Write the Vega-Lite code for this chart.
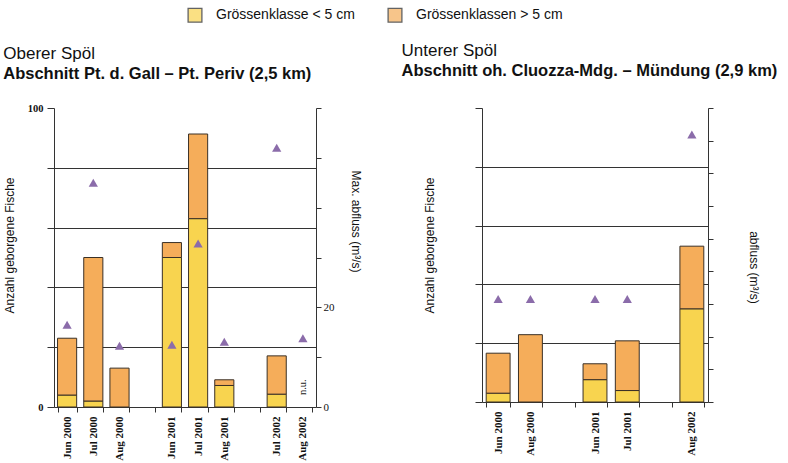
{
  "$schema": "https://vega.github.io/schema/vega-lite/v6.json",
  "background": "white",
  "padding": {"left": 3, "top": 7, "right": 3, "bottom": 0},
  "config": {
    "font": "Liberation Sans",
    "view": {"stroke": null},
    "axis": {"domainColor": "#333333", "tickColor": "#333333", "labelColor": "#111111", "titleColor": "#111111", "titleFontWeight": "normal", "titleFontSize": 12},
    "legend": {"labelFontSize": 14, "labelFont": "Liberation Sans"}
  },
  "datasets": {
    "bars": [
      {"panel": "L", "month": "Jun 2000", "class": "Grössenklasse < 5 cm", "count": 4},
      {"panel": "L", "month": "Jun 2000", "class": "Grössenklassen > 5 cm", "count": 19},
      {"panel": "L", "month": "Jul 2000", "class": "Grössenklasse < 5 cm", "count": 2},
      {"panel": "L", "month": "Jul 2000", "class": "Grössenklassen > 5 cm", "count": 48},
      {"panel": "L", "month": "Aug 2000", "class": "Grössenklassen > 5 cm", "count": 13},
      {"panel": "L", "month": "Jun 2001", "class": "Grössenklasse < 5 cm", "count": 50},
      {"panel": "L", "month": "Jun 2001", "class": "Grössenklassen > 5 cm", "count": 5},
      {"panel": "L", "month": "Jul 2001", "class": "Grössenklasse < 5 cm", "count": 63},
      {"panel": "L", "month": "Jul 2001", "class": "Grössenklassen > 5 cm", "count": 28.3},
      {"panel": "L", "month": "Aug 2001", "class": "Grössenklasse < 5 cm", "count": 7.2},
      {"panel": "L", "month": "Aug 2001", "class": "Grössenklassen > 5 cm", "count": 1.9},
      {"panel": "L", "month": "Jul 2002", "class": "Grössenklasse < 5 cm", "count": 4.3},
      {"panel": "L", "month": "Jul 2002", "class": "Grössenklassen > 5 cm", "count": 12.8},
      {"panel": "R", "month": "Jun 2000", "class": "Grössenklasse < 5 cm", "count": 3},
      {"panel": "R", "month": "Jun 2000", "class": "Grössenklassen > 5 cm", "count": 13.6},
      {"panel": "R", "month": "Aug 2000", "class": "Grössenklassen > 5 cm", "count": 22.9},
      {"panel": "R", "month": "Jun 2001", "class": "Grössenklasse < 5 cm", "count": 7.6},
      {"panel": "R", "month": "Jun 2001", "class": "Grössenklassen > 5 cm", "count": 5.4},
      {"panel": "R", "month": "Jul 2001", "class": "Grössenklasse < 5 cm", "count": 3.9},
      {"panel": "R", "month": "Jul 2001", "class": "Grössenklassen > 5 cm", "count": 16.9},
      {"panel": "R", "month": "Aug 2002", "class": "Grössenklasse < 5 cm", "count": 31.7},
      {"panel": "R", "month": "Aug 2002", "class": "Grössenklassen > 5 cm", "count": 21.3}
    ],
    "flow": [
      {"panel": "L", "month": "Jun 2000", "flow": 16.5},
      {"panel": "L", "month": "Jul 2000", "flow": 45},
      {"panel": "L", "month": "Aug 2000", "flow": 12.3},
      {"panel": "L", "month": "Jun 2001", "flow": 12.5},
      {"panel": "L", "month": "Jul 2001", "flow": 32.8},
      {"panel": "L", "month": "Aug 2001", "flow": 13.1},
      {"panel": "L", "month": "Jul 2002", "flow": 52},
      {"panel": "L", "month": "Aug 2002", "flow": 13.8},
      {"panel": "R", "month": "Jun 2000", "flow": 31.5},
      {"panel": "R", "month": "Aug 2000", "flow": 31.5},
      {"panel": "R", "month": "Jun 2001", "flow": 31.5},
      {"panel": "R", "month": "Jul 2001", "flow": 31.5},
      {"panel": "R", "month": "Aug 2002", "flow": 81.9}
    ],
    "notes": [
      {"panel": "L", "month": "Aug 2002", "count": 4, "label": "n.u."}
    ]
  },
  "hconcat": [
    {
      "width": 262,
      "height": 299,
      "title": {"text": "Oberer Spöl", "subtitle": "Abschnitt Pt. d. Gall – Pt. Periv (2,5 km)", "anchor": "start", "frame": "bounds", "fontSize": 17, "fontWeight": "normal", "color": "#111111", "subtitleFontSize": 16.5, "subtitleFontWeight": "bold", "subtitleColor": "#111111", "subtitlePadding": 3, "offset": 20},
      "layer": [
        {
          "layer": [
            {
              "data": {"name": "bars"},
              "transform": [{"filter": "datum.panel === 'L' && datum.month === 'Jul 2001'"}],
              "mark": {"type": "point", "shape": "square", "filled": false, "size": 10, "strokeWidth": 1},
              "encoding": {
                "x": {"field": "month", "type": "nominal"},
                "y": {"field": "count", "type": "quantitative"},
                "stroke": {"field": "class", "type": "nominal",
                  "scale": {"domain": ["Grössenklasse < 5 cm", "Grössenklassen > 5 cm"], "range": ["#222222", "#222222"]},
                  "legend": {"orient": "none", "legendX": 133, "legendY": -101, "title": null, "direction": "horizontal", "symbolType": "square", "symbolSize": 190, "symbolStrokeWidth": 1.3, "symbolFillColor": "white", "labelFontSize": 14, "labelColor": "#111111", "labelOffset": 13, "columnPadding": 30}}
              }
            },
            {
              "data": {"name": "bars"},
              "transform": [{"filter": "datum.panel === 'L'"}],
              "mark": {"type": "bar", "stroke": "#3a3026", "strokeWidth": 1},
              "encoding": {
                "x": {"field": "month", "type": "nominal",
                  "scale": {"domain": ["Jun 2000", "Jul 2000", "Aug 2000", "_g1", "Jun 2001", "Jul 2001", "Aug 2001", "_g2", "Jul 2002", "Aug 2002"], "paddingInner": 0.27, "paddingOuter": 0.135},
                  "axis": {"title": null, "labelAngle": -90, "labelFont": "Liberation Serif", "labelFontWeight": "bold", "labelFontSize": 11, "labelExpr": "indexof(datum.label, '_') === 0 ? '' : datum.label", "tickBand": "extent", "tickSize": 5, "labelPadding": 4}},
                "y": {"field": "count", "type": "quantitative", "stack": "zero",
                  "scale": {"domain": [0, 100], "nice": false},
                  "axis": {"title": "Anzahl geborgene Fische", "titleY": 137, "values": [0, 20, 40, 60, 80, 100], "labelExpr": "datum.value === 0 || datum.value === 100 ? datum.label : ''", "labelFont": "Liberation Serif", "labelFontWeight": "bold", "labelFontSize": 10.5, "grid": true, "gridColor": {"condition": {"test": "datum.value === 0 || datum.value === 100", "value": "transparent"}, "value": "#333333"}, "gridWidth": 1, "titlePadding": 11, "tickSize": 7, "labelPadding": 4}},
                "color": {"field": "class", "type": "nominal",
                  "scale": {"domain": ["Grössenklasse < 5 cm", "Grössenklassen > 5 cm"], "range": ["#f8d44f", "#f5ad5a"]},
                  "legend": null},
                "order": {"field": "class", "type": "nominal", "sort": "ascending"}
              }
            },
            {
              "data": {"name": "notes"},
              "mark": {"type": "text", "angle": 270, "align": "left", "baseline": "middle", "font": "Liberation Serif", "fontSize": 10.5, "color": "#222222"},
              "encoding": {
                "x": {"field": "month", "type": "nominal"},
                "y": {"field": "count", "type": "quantitative"},
                "text": {"field": "label"}
              }
            }
          ]
        },
        {
          "data": {"name": "flow"},
          "transform": [{"filter": "datum.panel === 'L'"}],
          "mark": {"type": "point", "shape": "triangle-up", "filled": true, "size": 85, "color": "#8b6caa", "opacity": 1},
          "encoding": {
            "x": {"field": "month", "type": "nominal"},
            "y": {"field": "flow", "type": "quantitative",
              "scale": {"domain": [0, 60], "nice": false},
              "axis": {"orient": "right", "title": "Max. abfluss (m³/s)", "titleY": 113, "values": [0, 10, 20, 30, 40, 50, 60], "labelExpr": "datum.value === 0 || datum.value === 20 ? datum.label : ''", "labelFont": "Liberation Serif", "labelFontSize": 11, "grid": false, "titlePadding": 14, "tickSize": 5}}
          }
        }
      ],
      "resolve": {"scale": {"y": "independent"}}
    },
    {
      "width": 226,
      "height": 294,
      "title": {"text": "Unterer Spöl", "subtitle": "Abschnitt oh. Cluozza-Mdg. – Mündung (2,9 km)", "anchor": "start", "frame": "bounds", "dx": -22, "fontSize": 17, "fontWeight": "normal", "color": "#111111", "subtitleFontSize": 16.5, "subtitleFontWeight": "bold", "subtitleColor": "#111111", "subtitlePadding": 3, "offset": 27},
      "layer": [
        {
          "data": {"name": "bars"},
          "transform": [{"filter": "datum.panel === 'R'"}],
          "mark": {"type": "bar", "stroke": "#3a3026", "strokeWidth": 1},
          "encoding": {
            "x": {"field": "month", "type": "nominal",
              "scale": {"domain": ["Jun 2000", "Aug 2000", "_g1", "Jun 2001", "Jul 2001", "_g2", "Aug 2002"], "paddingInner": 0.26, "paddingOuter": 0.13},
              "axis": {"title": null, "labelAngle": -90, "labelFont": "Liberation Serif", "labelFontWeight": "bold", "labelFontSize": 11, "labelExpr": "indexof(datum.label, '_') === 0 ? '' : datum.label", "tickBand": "extent", "tickSize": 5, "labelPadding": 4}},
            "y": {"field": "count", "type": "quantitative", "stack": "zero",
              "scale": {"domain": [0, 100], "nice": false},
              "axis": {"title": "Anzahl geborgene Fische", "titleY": 137, "values": [0, 20, 40, 60, 80, 100], "labels": false, "grid": true, "gridColor": {"condition": {"test": "datum.value === 0 || datum.value === 100", "value": "transparent"}, "value": "#333333"}, "gridWidth": 1, "titlePadding": 38, "tickSize": 7}},
            "color": {"field": "class", "type": "nominal", "legend": null},
            "order": {"field": "class", "type": "nominal", "sort": "ascending"}
          }
        },
        {
          "data": {"name": "flow"},
          "transform": [{"filter": "datum.panel === 'R'"}],
          "mark": {"type": "point", "shape": "triangle-up", "filled": true, "size": 85, "color": "#8b6caa", "opacity": 1},
          "encoding": {
            "x": {"field": "month", "type": "nominal"},
            "y": {"field": "flow", "type": "quantitative",
              "scale": {"domain": [0, 90], "nice": false},
              "axis": {"orient": "right", "title": "abfluss (m³/s)", "titleY": 159, "values": [0, 10, 20, 30, 40, 50, 60, 70, 80, 90], "labels": false, "grid": false, "titlePadding": 33, "tickSize": 5}}
          }
        }
      ],
      "resolve": {"scale": {"y": "independent"}}
    }
  ],
  "spacing": 40
}
